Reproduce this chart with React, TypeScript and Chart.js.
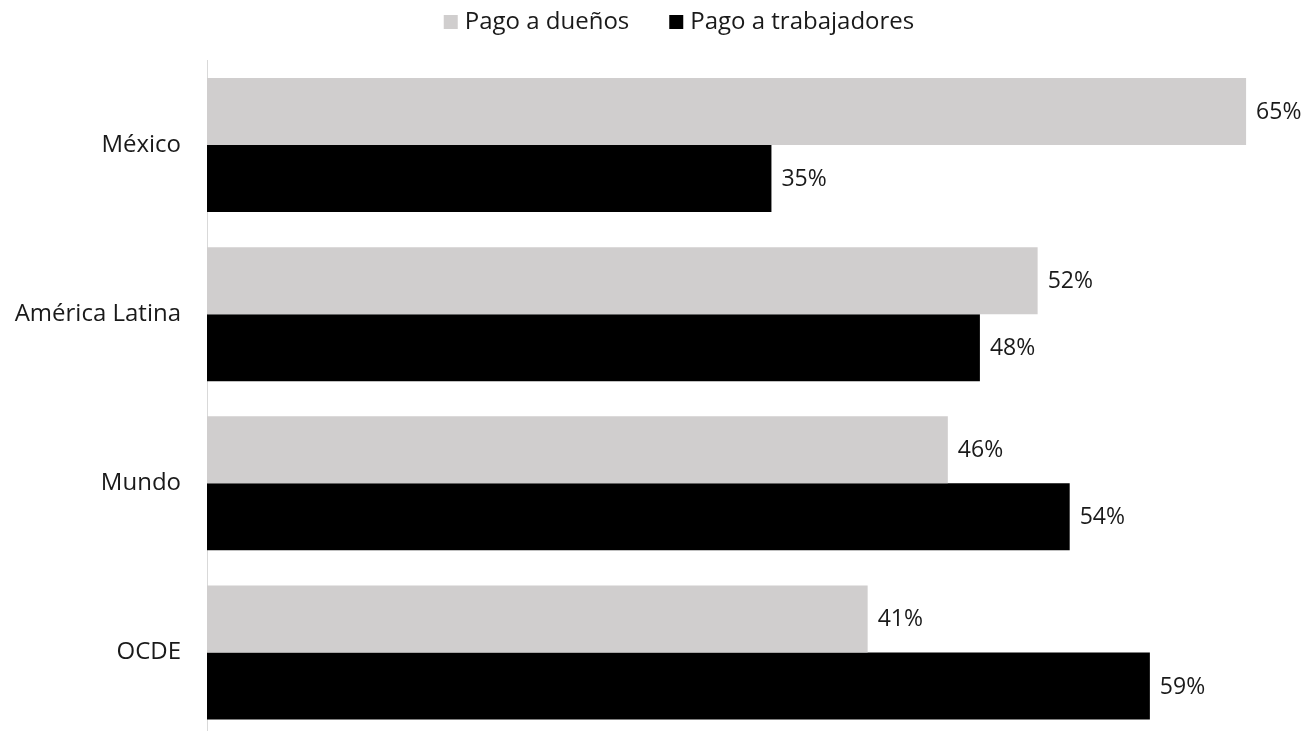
import React, { useEffect, useRef } from "react";
import { Chart, registerables } from "chart.js";

Chart.register(...registerables);

const categories = ["México", "América Latina", "Mundo", "OCDE"];
const pagoDuenos = [64.8, 51.8, 46.2, 41.2];
const pagoTrabajadores = [35.2, 48.2, 53.8, 58.8];
const seriesNames = ["Pago a dueños", "Pago a trabajadores"];
const seriesColors = ["#d0cece", "#000000"];

const FONT = "'Open Sans', 'Noto Sans', sans-serif";

const valueLabels = {
  id: "valueLabels",
  afterDatasetsDraw(chart: any) {
    const ctx = chart.ctx;
    ctx.save();
    ctx.font = `23px ${FONT}`;
    ctx.fillStyle = "#1a1a1a";
    ctx.textAlign = "left";
    ctx.textBaseline = "middle";
    chart.data.datasets.forEach((ds: any, di: number) => {
      const meta = chart.getDatasetMeta(di);
      meta.data.forEach((bar: any, i: number) => {
        const v = ds.data[i];
        ctx.fillText(`${Math.round(v)}%`, bar.x + 10, bar.y + 1);
      });
    });
    ctx.restore();
  },
};

const customLegend = {
  id: "customLegend",
  afterDraw(chart: any) {
    const ctx = chart.ctx;
    ctx.save();
    ctx.font = `24px ${FONT}`;
    ctx.textBaseline = "middle";
    const box = 14;
    const gap = 7;
    const itemGap = 40;
    const widths = seriesNames.map((n) => box + gap + ctx.measureText(n).width);
    const total = widths.reduce((a, b) => a + b, 0) + itemGap;
    let x = 679 - total / 2;
    const y = 22;
    seriesNames.forEach((n, i) => {
      ctx.fillStyle = seriesColors[i];
      ctx.fillRect(x, y - box / 2, box, box);
      ctx.fillStyle = "#1a1a1a";
      ctx.textAlign = "left";
      ctx.fillText(n, x + box + gap, y);
      x += widths[i] + itemGap;
    });
    ctx.restore();
  },
};

export default function App() {
  const ref = useRef<HTMLCanvasElement | null>(null);

  useEffect(() => {
    document.body.style.margin = "0";
    const chart = new Chart(ref.current as HTMLCanvasElement, {
      type: "bar",
      data: {
        labels: categories,
        datasets: [
          {
            label: seriesNames[0],
            data: pagoDuenos,
            backgroundColor: seriesColors[0],
            categoryPercentage: 0.793,
            barPercentage: 1.0,
          },
          {
            label: seriesNames[1],
            data: pagoTrabajadores,
            backgroundColor: seriesColors[1],
            categoryPercentage: 0.793,
            barPercentage: 1.0,
          },
        ],
      },
      options: {
        indexAxis: "y",
        animation: false,
        responsive: false,
        maintainAspectRatio: false,
        layout: { padding: { top: 60.5, right: 10, bottom: 0, left: 0 } },
        plugins: {
          legend: { display: false },
          tooltip: { enabled: false },
        },
        scales: {
          x: {
            display: false,
            min: 0,
            max: 68.1,
          },
          y: {
            afterFit(scale: any) {
              scale.width = 207;
              scale.paddingTop = 0;
              scale.paddingBottom = 0;
            },
            grid: { display: false, drawTicks: false },
            border: { display: true, color: "#d9d9d9", width: 1 },
            ticks: {
              color: "#1a1a1a",
              font: { family: FONT, size: 24 },
              padding: 26,
            },
          },
        },
      },
      plugins: [valueLabels, customLegend],
    });
    return () => chart.destroy();
  }, []);

  return (
    <div style={{ width: 1309, height: 731, overflow: "hidden" }}>
      <canvas ref={ref} width={1309} height={737} style={{ display: "block" }} />
    </div>
  );
}
